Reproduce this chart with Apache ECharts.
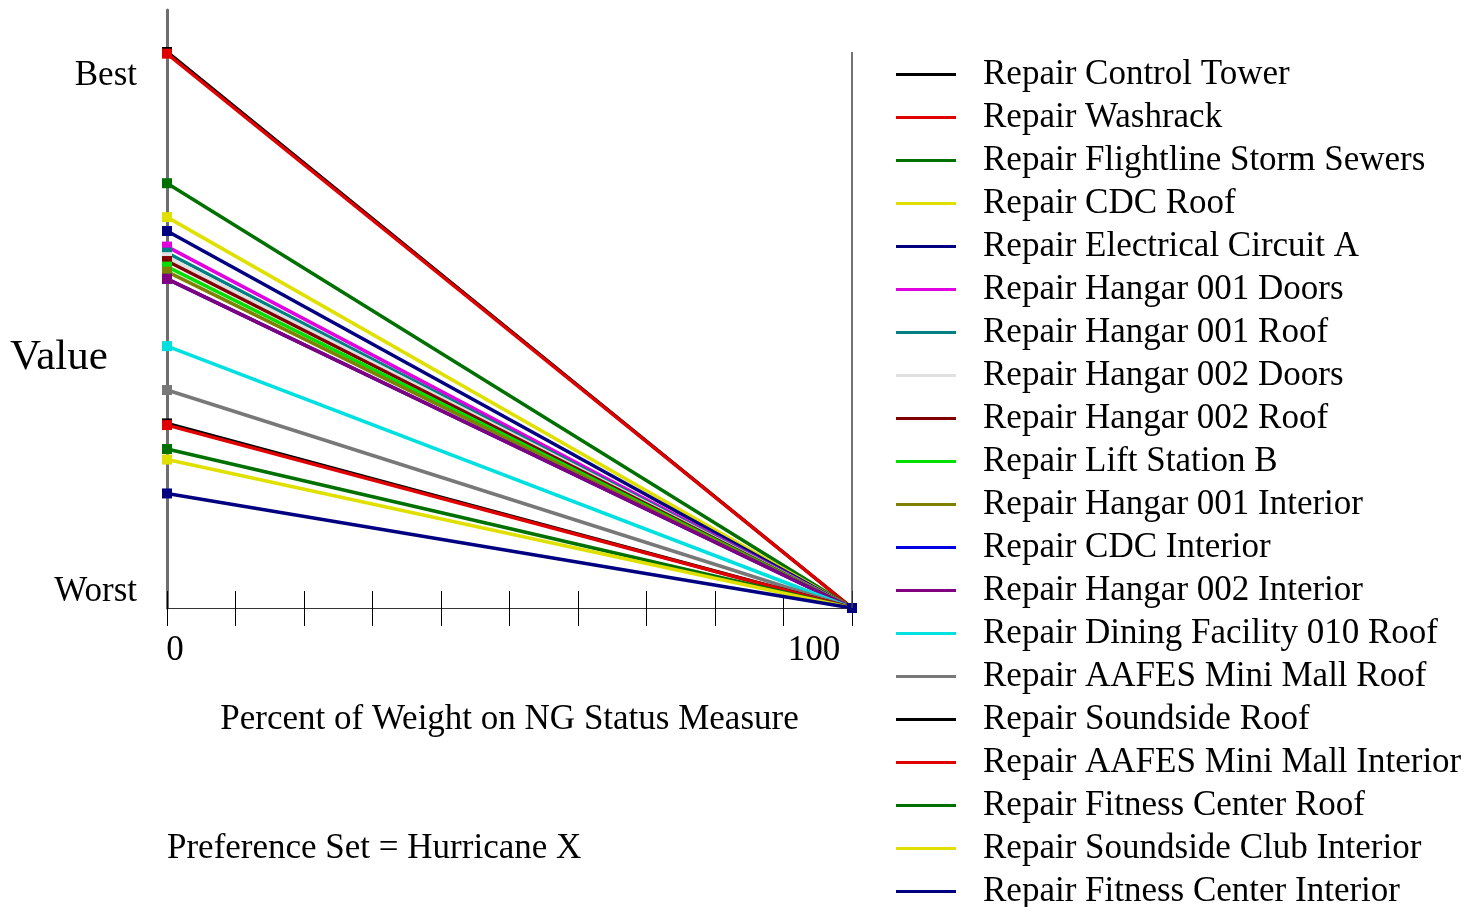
<!DOCTYPE html>
<html>
<head>
<meta charset="utf-8">
<script src="https://cdn.jsdelivr.net/npm/echarts@6/dist/echarts.min.js"></script>
<style>
html,body{margin:0;padding:0;background:#fff;}
#chart{width:1476px;height:907px;}
</style>
</head>
<body>
<div id="chart"></div>
<script>
var alternatives = [
  "Repair Control Tower",
  "Repair Washrack",
  "Repair Flightline Storm Sewers",
  "Repair CDC Roof",
  "Repair Electrical Circuit A",
  "Repair Hangar 001 Doors",
  "Repair Hangar 001 Roof",
  "Repair Hangar 002 Doors",
  "Repair Hangar 002 Roof",
  "Repair Lift Station B",
  "Repair Hangar 001 Interior",
  "Repair CDC Interior",
  "Repair Hangar 002 Interior",
  "Repair Dining Facility 010 Roof",
  "Repair AAFES Mini Mall Roof",
  "Repair Soundside Roof",
  "Repair AAFES Mini Mall Interior",
  "Repair Fitness Center Roof",
  "Repair Soundside Club Interior",
  "Repair Fitness Center Interior"
];
// value at 0% weight on NG Status Measure (0 = Worst, 1 = Best)
var valueAt0 = [1.000, 0.997, 0.764, 0.703, 0.678, 0.650, 0.639, 0.631, 0.624, 0.614,
                0.605, 0.592, 0.592, 0.471, 0.392, 0.332, 0.329, 0.286, 0.267, 0.206];
// value at 100% weight on NG Status Measure
var valueAt100 = [0, 0, 0, 0, 0, 0, 0, 0, 0, 0, 0, 0, 0, 0, 0, 0, 0, 0, 0, 0];
var weightEnds = [0, 100];
var colors = ["#000000", "#e00000", "#007000", "#e0e000", "#000080", "#e000e0", "#008080", "#e0e0e0",
              "#800000", "#00e000", "#808000", "#0000e0", "#800080", "#00e0e0", "#787878",
              "#000000", "#e00000", "#007000", "#e0e000", "#000080"];

var FONT = '"Liberation Serif", "DejaVu Serif", serif';

var series = alternatives.map(function (name, i) {
  var s = {
    name: name,
    type: 'line',
    xAxisIndex: 0,
    data: [[weightEnds[0], valueAt0[i]], [weightEnds[1], valueAt100[i]]],
    symbol: 'rect',
    symbolSize: 10,
    showSymbol: true,
    lineStyle: { width: 3.5, color: colors[i] },
    itemStyle: { color: colors[i] },
    color: colors[i],
    animation: false
  };
  if (i === 0) {
    s.markLine = {
      silent: true,
      symbol: ['none', 'none'],
      label: { show: false },
      lineStyle: { color: '#444', width: 1.5, type: 'solid' },
      data: [[{ coord: [100, 0] }, { coord: [100, 1] }]],
      animation: false
    };
  }
  return s;
});

var chart = echarts.init(document.getElementById('chart'));
chart.setOption({
  backgroundColor: '#ffffff',
  animation: false,
  grid: { left: 167, right: 624, top: 10, bottom: 299, containLabel: false, outerBoundsMode: 'none' },
  xAxis: [{
    type: 'value', min: 0, max: 100, interval: 10,
    name: 'Percent of Weight on NG Status Measure',
    nameLocation: 'middle', nameGap: 94, nameMoveOverlap: false,
    nameTextStyle: { fontFamily: FONT, fontSize: 35, color: '#000' },
    axisLine: { show: true, lineStyle: { color: '#333', width: 1 } },
    axisTick: { show: true, inside: false, length: 18, lineStyle: { color: '#000', width: 1 } },
    splitLine: { show: false },
    axisLabel: {
      show: true, margin: 25, interval: 0,
      fontFamily: FONT, fontSize: 35, color: '#000',
      formatter: function (v) {
        if (v === 0) return '{a|0}';
        if (v === 100) return '{b|100}';
        return '';
      },
      rich: {
        a: { fontFamily: FONT, fontSize: 35, color: '#000', padding: [0, 0, 0, 16] },
        b: { fontFamily: FONT, fontSize: 35, color: '#000', padding: [0, 76, 0, 0] }
      }
    }
  }, {
    type: 'value', min: 0, max: 100, interval: 10, position: 'bottom',
    axisLine: { show: false },
    axisTick: { show: true, inside: true, length: 17, lineStyle: { color: '#000', width: 1 } },
    axisLabel: { show: false },
    splitLine: { show: false }
  }],
  yAxis: [{
    type: 'value', min: 0, max: 1.0755, interval: 1,
    axisLine: { show: true, lineStyle: { color: '#6e6e6e', width: 3 } },
    axisTick: { show: false },
    splitLine: { show: false },
    axisLabel: {
      show: true, margin: 30,
      fontFamily: FONT, fontSize: 35, color: '#000',
      formatter: function (v) {
        if (Math.abs(v - 1) < 1e-9) return '{best|Best}';
        if (Math.abs(v) < 1e-9) return '{worst|Worst}';
        return '';
      },
      rich: {
        best: { fontFamily: FONT, fontSize: 35, color: '#000', padding: [48, 0, 0, 0] },
        worst: { fontFamily: FONT, fontSize: 35, color: '#000', padding: [0, 0, 32, 0] }
      }
    }
  }],
  legend: {
    orient: 'vertical',
    left: 896, top: 53,
    width: 580, height: 880,
    padding: 0,
    itemGap: 0,
    itemWidth: 60, itemHeight: 3,
    icon: 'rect',
    data: alternatives,
    textStyle: { fontFamily: FONT, fontSize: 35, color: '#000', lineHeight: 43, padding: [0, 0, 0, 22] }
  },
  graphic: [{
    type: 'text', left: 10, top: 336,
    style: { text: 'Value', font: '43px ' + FONT, fill: '#000' }
  }, {
    type: 'text', left: 167, top: 831,
    style: { text: 'Preference Set = Hurricane X', font: '35px ' + FONT, fill: '#000' }
  }],
  series: series
});
</script>
</body>
</html>
